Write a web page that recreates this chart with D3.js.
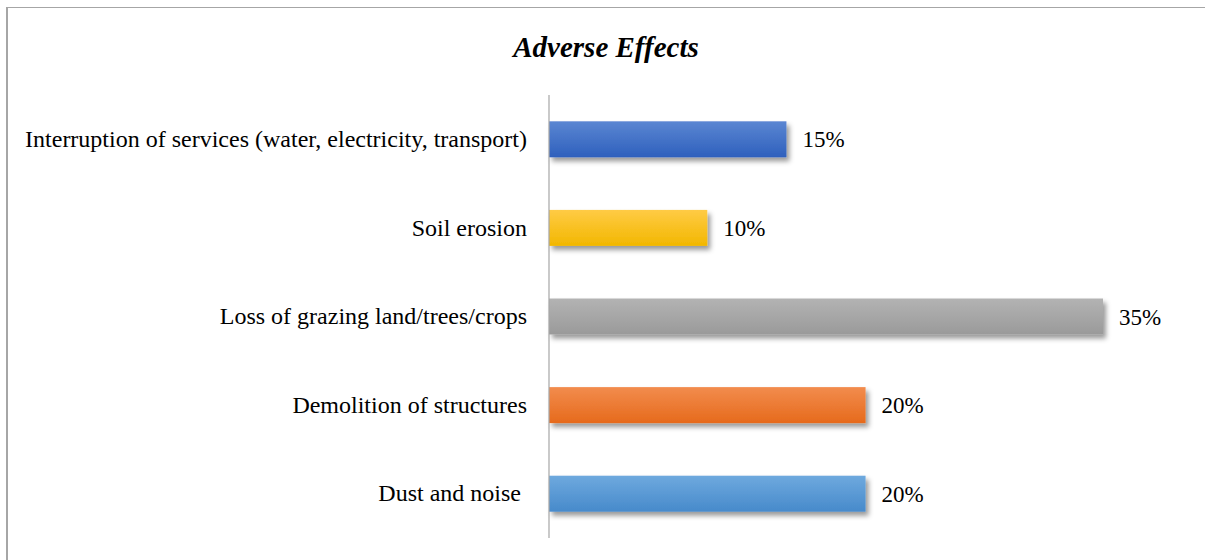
<!DOCTYPE html>
<html>
<head>
<meta charset="utf-8">
<script src="https://cdn.jsdelivr.net/npm/d3@7"></script>
<style>
	html, body { margin: 0; padding: 0; background: #fff; }
	svg { display: block; }
</style>
</head>
<body>
<svg id="chart" width="1205" height="560"></svg>
<script>
// chart data
var categories = [
	'Interruption of services (water, electricity, transport)',
	'Soil erosion',
	'Loss of grazing land/trees/crops',
	'Demolition of structures',
	'Dust and noise '
];
var values = [15, 10, 35, 20, 20];
var valueLabels = ['15%', '10%', '35%', '20%', '20%'];
// top / bottom colours of each bar's gradient
var topColors = ['#5b86d2', '#ffcb45', '#b3b3b3', '#f28c4d', '#6ea9de'];
var bottomColors = ['#2e60bd', '#f2b700', '#9a9a9a', '#e66a1c', '#478acb'];

var FONT = '"Liberation Serif", "Times New Roman", serif';
var svg = d3.select('#chart');
var margin = {left: 549, right: 102, top: 95, bottom: 22};
var width = 1205, height = 560;

// frame (only left and top edges are visible in the picture)
svg.append('line')
	.attr('x1', 7).attr('x2', 7).attr('y1', 7).attr('y2', height)
	.attr('stroke', '#a6a6a6').attr('stroke-width', 2);
svg.append('line')
	.attr('x1', 6).attr('x2', width).attr('y1', 7.5).attr('y2', 7.5)
	.attr('stroke', '#a6a6a6').attr('stroke-width', 1);

svg.append('text')
	.attr('x', 606)
	.attr('y', 57)
	.attr('text-anchor', 'middle')
	.style('font-family', FONT)
	.style('font-size', '29px')
	.style('font-weight', 'bold')
	.style('font-style', 'italic')
	.text('Adverse Effects');

var defs = svg.append('defs');
var filter = defs.append('filter')
	.attr('id', 'shadow')
	.attr('x', '-10%').attr('y', '-30%')
	.attr('width', '130%').attr('height', '190%');
filter.append('feDropShadow')
	.attr('dx', 3).attr('dy', 4)
	.attr('stdDeviation', 2.5)
	.attr('flood-color', '#000')
	.attr('flood-opacity', 0.4);

categories.forEach(function (c, i) {
	var grad = defs.append('linearGradient')
		.attr('id', 'grad' + i)
		.attr('x1', 0).attr('x2', 0).attr('y1', 0).attr('y2', 1);
	grad.append('stop').attr('offset', '0%').attr('stop-color', topColors[i]);
	grad.append('stop').attr('offset', '100%').attr('stop-color', bottomColors[i]);
});

var x = d3.scaleLinear()
	.domain([0, 35])
	.range([margin.left, width - margin.right]);

var y = d3.scaleBand()
	.domain(categories)
	.range([margin.top, height - margin.bottom])
	.paddingInner(0.594)
	.paddingOuter(0.297);

svg.append('g').selectAll('rect')
	.data(categories)
	.enter().append('rect')
	.attr('x', x(0))
	.attr('y', function (d) { return y(d); })
	.attr('width', function (d, i) { return x(values[i]) - x(0); })
	.attr('height', y.bandwidth())
	.attr('fill', function (d, i) { return 'url(#grad' + i + ')'; })
	.attr('filter', 'url(#shadow)');

// category axis: vertical line plus labels
var axis = svg.append('g')
	.attr('transform', 'translate(' + x(0) + ',0)')
	.call(d3.axisLeft(y).tickSize(0).tickPadding(22));
axis.select('.domain')
	.attr('stroke', '#a6a6a6')
	.attr('stroke-width', 1.2)
	.attr('d', 'M0,' + margin.top + 'V' + (height - margin.bottom));
axis.selectAll('text')
	.attr('fill', '#000')
	.style('font-family', FONT)
	.style('font-size', '24px')
	.style('white-space', 'pre');

svg.append('g').selectAll('text')
	.data(categories)
	.enter().append('text')
	.attr('x', function (d, i) { return x(values[i]) + 16; })
	.attr('y', function (d) { return y(d) + y.bandwidth() / 2; })
	.attr('dy', '0.35em')
	.style('font-family', FONT)
	.style('font-size', '23px')
	.text(function (d, i) { return valueLabels[i]; });
</script>
</body>
</html>
